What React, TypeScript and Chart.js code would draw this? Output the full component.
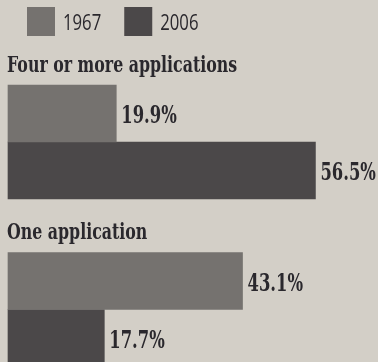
import React, { useEffect, useRef } from "react";
import { Chart, registerables } from "chart.js";

Chart.register(...registerables);

// ---- data ----
const categories = ["Four or more applications", "One application"];
const seriesLabels = ["1967", "2006"];
const values1967 = [19.9, 43.1];
const values2006 = [56.5, 17.7];

// ---- styles ----
const W = 378;
const H = 362;
const PAPER = "#d3cfc7";
const INK = "#2a282d";
const COLORS = ["#75726f", "#4b4849"];

function drawText(ctx: CanvasRenderingContext2D, text: string, x: number, y: number, font: string, sx: number) {
  ctx.save();
  ctx.font = font;
  const w = ctx.measureText(text).width * sx;
  ctx.translate(x, y);
  ctx.scale(sx, 1);
  ctx.fillText(text, 0, 0);
  ctx.restore();
  return w;
}

const paperPlugin = {
  id: "paper",
  beforeDraw(chart: any) {
    const { ctx, width, height } = chart;
    ctx.save();
    ctx.fillStyle = PAPER;
    ctx.fillRect(0, 0, width, height);
    ctx.restore();
  },
};

const newsLabelsPlugin = {
  id: "newsLabels",
  afterDatasetsDraw(chart: any) {
    const ctx: CanvasRenderingContext2D = chart.ctx;
    ctx.save();
    ctx.textAlign = "left";
    ctx.textBaseline = "alphabetic";

    // legend
    let x = 27;
    chart.data.datasets.forEach((ds: any) => {
      ctx.fillStyle = ds.backgroundColor;
      ctx.fillRect(x, 7, 28, 29);
      ctx.fillStyle = INK;
      const w = drawText(ctx, ds.label, x + 36, 29.5, "22px 'Open Sans'", 0.76);
      x = x + 36 + w + 23;
    });

    // category titles
    const meta0 = chart.getDatasetMeta(0);
    chart.data.labels.forEach((lab: string, i: number) => {
      const bar = meta0.data[i];
      const top = bar.y - bar.height / 2;
      ctx.fillStyle = INK;
      drawText(ctx, lab, 7, top - 13.5, "bold 21.5px 'DejaVu Serif'", 0.735);
    });

    // value labels
    chart.data.datasets.forEach((ds: any, di: number) => {
      const meta = chart.getDatasetMeta(di);
      meta.data.forEach((bar: any, i: number) => {
        ctx.fillStyle = INK;
        drawText(ctx, `${ds.data[i].toFixed(1)}%`, bar.x + 5, bar.y + 9.5, "bold 25px 'DejaVu Serif'", 0.655);
      });
    });
    ctx.restore();
  },
};

export default function App() {
  const ref = useRef<HTMLCanvasElement | null>(null);

  useEffect(() => {
    if (!ref.current) return;
    const chart = new Chart(ref.current, {
      type: "bar",
      data: {
        labels: categories,
        datasets: [
          { label: seriesLabels[0], data: values1967, backgroundColor: COLORS[0], barThickness: 57, clip: false as any },
          { label: seriesLabels[1], data: values2006, backgroundColor: COLORS[1], barThickness: 57, clip: false as any },
        ],
      },
      options: {
        indexAxis: "y",
        animation: false,
        responsive: false,
        maintainAspectRatio: false,
        layout: { padding: { top: 142, bottom: 52.5, left: 8, right: 0 } },
        scales: {
          x: { display: false, min: 0, max: 68 },
          y: { display: false, offset: false },
        },
        plugins: {
          legend: { display: false },
          tooltip: { enabled: false },
        },
      },
      plugins: [paperPlugin, newsLabelsPlugin],
    });
    return () => chart.destroy();
  }, []);

  return (
    <div style={{ position: "fixed", left: 0, top: 0, width: W, height: H, background: PAPER }}>
      <canvas ref={ref} width={W} height={H} style={{ display: "block", width: W, height: H }} />
    </div>
  );
}
